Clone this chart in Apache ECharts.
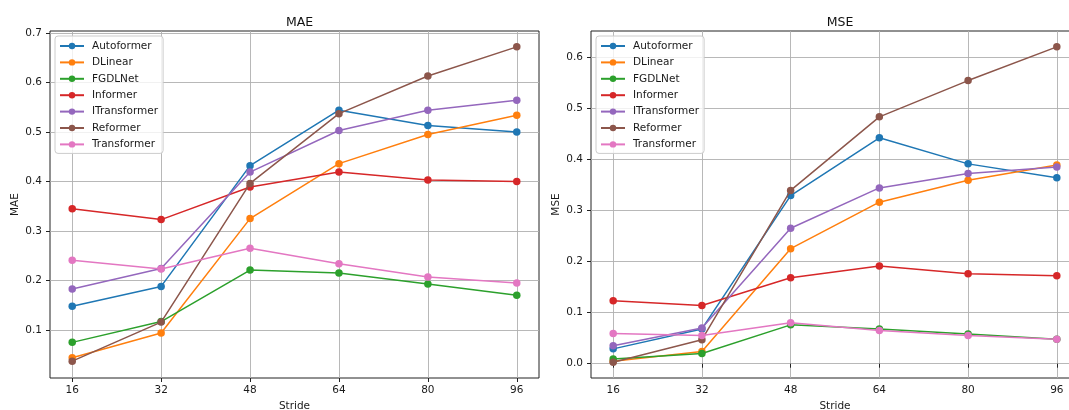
<!DOCTYPE html>
<html>
<head>
<meta charset="utf-8">
<script src="https://cdn.jsdelivr.net/npm/echarts@6/dist/echarts.min.js"></script>
<style>
  html, body { margin: 0; padding: 0; background: #fff; }
  #chart { width: 1069px; height: 410px; }
</style>
</head>
<body>
<div id="chart"></div>
<script>
// strides on the x axis
const strides = [16, 32, 48, 64, 80, 96];
const legendNames = ['Autoformer', 'DLinear', 'FGDLNet', 'Informer', 'ITransformer', 'Reformer', 'Transformer'];
const colors = ['#1f77b4', '#ff7f0e', '#2ca02c', '#d62728', '#9467bd', '#8c564b', '#e377c2'];

// MAE per model
const maeAutoformer = [0.148, 0.188, 0.432, 0.544, 0.513, 0.500];
const maeDLinear = [0.044, 0.094, 0.325, 0.436, 0.495, 0.534];
const maeFGDLNet = [0.075, 0.117, 0.221, 0.215, 0.193, 0.170];
const maeInformer = [0.345, 0.323, 0.389, 0.419, 0.403, 0.400];
const maeITransformer = [0.183, 0.224, 0.419, 0.503, 0.544, 0.564];
const maeReformer = [0.037, 0.116, 0.396, 0.537, 0.613, 0.672];
const maeTransformer = [0.241, 0.223, 0.265, 0.234, 0.207, 0.195];

// MSE per model
const mseAutoformer = [0.029, 0.068, 0.329, 0.442, 0.391, 0.364];
const mseDLinear = [0.005, 0.024, 0.225, 0.316, 0.359, 0.389];
const mseFGDLNet = [0.009, 0.020, 0.076, 0.068, 0.058, 0.048];
const mseInformer = [0.123, 0.114, 0.168, 0.191, 0.176, 0.172];
const mseITransformer = [0.035, 0.070, 0.265, 0.344, 0.372, 0.385];
const mseReformer = [0.003, 0.047, 0.339, 0.483, 0.554, 0.620];
const mseTransformer = [0.059, 0.055, 0.080, 0.065, 0.055, 0.048];

// tick labels
const xTicks = [16, 32, 48, 64, 80, 96];
const maeTicks = [0.1, 0.2, 0.3, 0.4, 0.5, 0.6, 0.7];
const mseTicks = [0.0, 0.1, 0.2, 0.3, 0.4, 0.5, 0.6];

const maeData = [maeAutoformer, maeDLinear, maeFGDLNet, maeInformer, maeITransformer, maeReformer, maeTransformer];
const mseData = [mseAutoformer, mseDLinear, mseFGDLNet, mseInformer, mseITransformer, mseReformer, mseTransformer];

const font = 'DejaVu Sans';
const textColor = '#1a1a1a';
const fs = 10.5;

function xAxisFor(idx) {
    return {
        type: 'value',
        gridIndex: idx,
        min: 12,
        max: 100,
        name: 'Stride',
        nameLocation: 'middle',
        nameGap: 22,
        nameTextStyle: {fontFamily: font, fontSize: fs, color: textColor},
        axisLine: {show: false},
        axisTick: {show: true, length: 4, customValues: xTicks, lineStyle: {color: '#222'}},
        axisLabel: {customValues: xTicks, fontFamily: font, fontSize: fs, color: textColor, margin: 7},
        splitLine: {show: true, lineStyle: {color: '#b0b0b0', width: 0.9}}
    };
}

function yAxisFor(idx, name, min, max, ticks) {
    return {
        type: 'value',
        gridIndex: idx,
        min: min,
        max: max,
        name: name,
        nameLocation: 'middle',
        nameRotate: 90,
        nameGap: 29,
        nameTextStyle: {fontFamily: font, fontSize: fs, color: textColor},
        axisLine: {show: false},
        axisTick: {show: true, length: 4, customValues: ticks, lineStyle: {color: '#222'}},
        axisLabel: {
            customValues: ticks,
            fontFamily: font,
            fontSize: fs,
            color: textColor,
            margin: 8,
            formatter: v => v.toFixed(1)
        },
        splitLine: {show: true, lineStyle: {color: '#b0b0b0', width: 0.9}}
    };
}

function legendFor(left) {
    return {
        data: legendNames.map(n => ({name: n})),
        orient: 'vertical',
        left: left,
        top: 36,
        padding: [4, 5, 3, 4],
        itemWidth: 24,
        itemHeight: 8,
        itemGap: 4.4,
        backgroundColor: 'rgba(255,255,255,0.8)',
        borderColor: '#cccccc',
        borderWidth: 1,
        borderRadius: 3,
        textStyle: {fontFamily: font, fontSize: fs, lineHeight: 12, color: textColor, padding: [0, 0, 0, 3]}
    };
}

const series = [];
[maeData, mseData].forEach((set, gi) => {
    set.forEach((vals, i) => {
        series.push({
            name: legendNames[i],
            type: 'line',
            xAxisIndex: gi,
            yAxisIndex: gi,
            data: strides.map((s, k) => [s, vals[k]]),
            symbol: 'circle',
            symbolSize: 7.5,
            color: colors[i],
            lineStyle: {width: 1.5},
            itemStyle: {color: colors[i]},
            emphasis: {disabled: true},
            animation: false,
            z: 3 + i
        });
    });
});

const chart = echarts.init(document.getElementById('chart'), null, {renderer: 'canvas'});
chart.setOption({
    backgroundColor: '#fff',
    animation: false,
    title: [
        {text: 'MAE', left: 294.5, top: 11, textAlign: 'center',
         textStyle: {fontFamily: font, fontSize: 12.5, fontWeight: 'normal', color: '#111'}},
        {text: 'MSE', left: 835, top: 11, textAlign: 'center',
         textStyle: {fontFamily: font, fontSize: 12.5, fontWeight: 'normal', color: '#111'}}
    ],
    legend: [legendFor(55), legendFor(596)],
    grid: [
        {left: 50, right: 530, top: 31, bottom: 32, show: true, borderColor: '#222', borderWidth: 1,
         backgroundColor: 'transparent', outerBoundsMode: 'none', containLabel: false},
        {left: 591, right: -10, top: 31, bottom: 32, show: true, borderColor: '#222', borderWidth: 1,
         backgroundColor: 'transparent', outerBoundsMode: 'none', containLabel: false}
    ],
    xAxis: [xAxisFor(0), xAxisFor(1)],
    yAxis: [
        yAxisFor(0, 'MAE', 0.003, 0.704, maeTicks),
        yAxisFor(1, 'MSE', -0.028, 0.651, mseTicks)
    ],
    series: series
});
</script>
</body>
</html>
